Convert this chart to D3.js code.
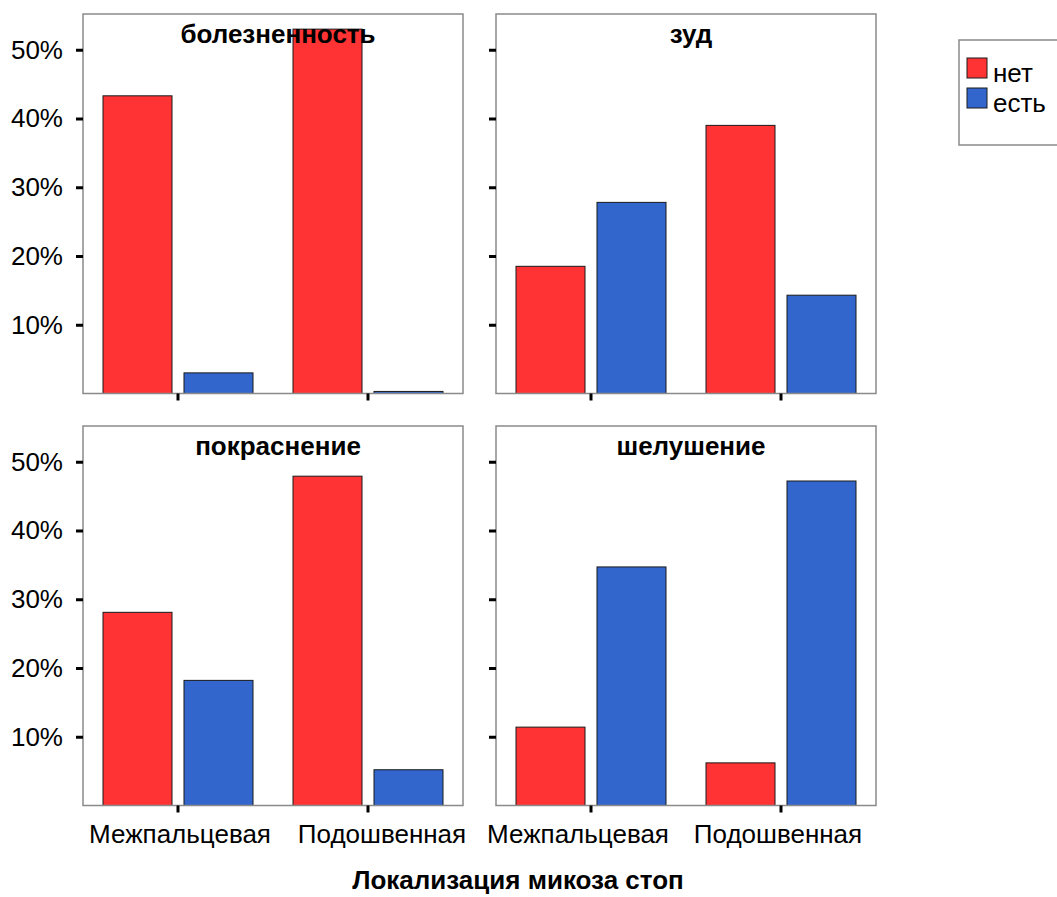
<!DOCTYPE html>
<html><head><meta charset="utf-8">
<script src="https://cdn.jsdelivr.net/npm/d3@7"></script>
<style>
body{margin:0;background:#fff}
svg text{font-family:"Liberation Sans",Arial,sans-serif;fill:#000}
</style>
</head><body>
<svg id="chart" width="1057" height="897"></svg>
<script>
// ---- data ----
const categories = ["Межпальцевая", "Подошвенная"];
const seriesNames = ["нет", "есть"];
const panelTitles = ["болезненность", "зуд", "покраснение", "шелушение"];
const netValues = [[43.3, 53.0], [18.5, 39.0], [28.1, 47.9], [11.4, 6.2]];
const estValues = [[3.0, 0.3], [27.8, 14.3], [18.2, 5.2], [34.7, 47.2]];
const yTickValues = [10, 20, 30, 40, 50];
const xAxisTitle = "Локализация микоза стоп";

// ---- layout ----
const panelW = 380, panelH = 379.5;
const colX = [83, 496], rowY = [14, 426];
const yMax = 55.2;
const colors = {"нет": "#FF3333", "есть": "#3366CC"};
const labelShift = [[2, 14], [-13, -3]];

const svg = d3.select("#chart");

panelTitles.forEach((title, i) => {
  const col = i % 2, row = Math.floor(i / 2);
  const x0 = colX[col], y0 = rowY[row];
  const g = svg.append("g").attr("transform", `translate(${x0},${y0})`);

  const y = d3.scaleLinear().domain([0, yMax]).range([panelH, 0]);
  const x = d3.scaleBand().domain(categories).range([0, panelW]).padding(0);
  const xs = d3.scaleBand().domain(seriesNames).range([20, x.bandwidth() - 20]).paddingInner(0.148);

  g.append("rect").attr("width", panelW).attr("height", panelH).attr("fill", "#fff");

  const rows = categories.map((c, ci) => ({
    cat: c,
    vals: [{s: "нет", v: netValues[i][ci]}, {s: "есть", v: estValues[i][ci]}]
  }));

  g.selectAll("g.cat").data(rows).join("g")
    .attr("transform", d => `translate(${x(d.cat)},0)`)
    .selectAll("rect").data(d => d.vals).join("rect")
    .attr("x", d => xs(d.s))
    .attr("width", xs.bandwidth())
    .attr("y", d => y(d.v))
    .attr("height", d => panelH - y(d.v))
    .attr("fill", d => colors[d.s])
    .attr("stroke", "#1a1a1a")
    .attr("stroke-width", 1);

  g.append("rect").attr("width", panelW).attr("height", panelH)
    .attr("fill", "none").attr("stroke", "#8a8a8a").attr("stroke-width", 1.5);

  const ya = d3.axisLeft(y).tickValues(yTickValues).tickSize(7).tickPadding(13)
    .tickFormat(col === 0 ? (d => d + "%") : (() => ""));
  const yg = g.append("g").call(ya);
  yg.select(".domain").remove();
  yg.selectAll(".tick line").attr("stroke", "#000").attr("stroke-width", 3);
  yg.selectAll(".tick text").attr("font-size", 26).attr("font-family", null);

  const xa = d3.axisBottom(x).tickSize(7).tickSizeOuter(0).tickPadding(12)
    .tickFormat(row === 1 ? (d => d) : (() => ""));
  const xg = g.append("g").attr("transform", `translate(0,${panelH})`).call(xa);
  xg.select(".domain").remove();
  xg.selectAll(".tick line").attr("stroke", "#000").attr("stroke-width", 3);
  xg.selectAll(".tick text").attr("font-size", 26).attr("font-family", null)
    .attr("dx", (d, k) => labelShift[col][k]);

  g.append("text").attr("x", panelW / 2 + 5).attr("y", 29)
    .attr("text-anchor", "middle").attr("font-weight", "bold").attr("font-size", 26)
    .text(title);
});

svg.append("text").attr("x", 518).attr("y", 889)
  .attr("text-anchor", "middle").attr("font-weight", "bold").attr("font-size", 26)
  .text(xAxisTitle);

const lg = svg.append("g").attr("transform", "translate(959,40)");
lg.append("rect").attr("width", 130).attr("height", 105)
  .attr("fill", "#fff").attr("stroke", "#8a8a8a").attr("stroke-width", 1.5);
seriesNames.forEach((s, k) => {
  lg.append("rect").attr("x", 8).attr("y", 18 + k * 30).attr("width", 20).attr("height", 20)
    .attr("fill", colors[s]).attr("stroke", "#1a1a1a").attr("stroke-width", 1);
  lg.append("text").attr("x", 34).attr("y", 42 + k * 29.5).attr("font-size", 26).text(s);
});
</script>
</body></html>
